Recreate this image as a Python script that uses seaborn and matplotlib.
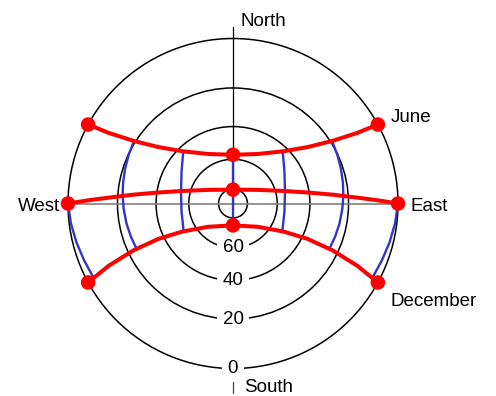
import numpy as np
import matplotlib
matplotlib.use("Agg")
import matplotlib.pyplot as plt
from matplotlib.patches import Circle
import seaborn as sns

# sun positions
# azimuth in degrees from north (clockwise), altitude in degrees
june_az = [61.4, 60.4, 57.8, 52.9, 44.1, 26.6, 0.0, 333.4, 315.9, 307.1, 302.2, 299.6, 298.6]
june_alt = [0.0, 8.2, 19.1, 30.9, 42.4, 52.9, 57.1, 52.9, 42.4, 30.9, 19.1, 8.2, 0.0]
equinox_az = [90.0, 88.7, 87.3, 84.9, 81.6, 76.1, 61.3, 0.0, 298.7, 283.9, 278.4, 275.1, 272.7, 271.3, 270.0]
equinox_alt = [0.0, 7.7, 16.0, 27.7, 40.9, 54.9, 70.5, 80.4, 70.5, 54.9, 40.9, 27.7, 16.0, 7.7, 0.0]
december_az = [118.6, 116.6, 115.2, 115.4, 119.0, 133.2, 180.0, 226.8, 241.0, 244.6, 244.8, 243.4, 241.4]
december_alt = [0.0, 9.8, 22.7, 36.9, 51.3, 66.7, 74.9, 66.7, 51.3, 36.9, 22.7, 9.8, 0.0]

# hour lines (June -> equinox -> December)
noon_az = [0.0, 0.0, 180.0]
noon_alt = [57.1, 80.4, 74.9]
h2_am_az = [43.6, 57.9, 76.6, 98.3, 119.0]
h2_pm_az = [316.4, 302.1, 283.4, 261.7, 241.0]
h2_alt = [42.8, 49.6, 54.1, 55.0, 52.2]
h4_am_az = [58.0, 65.0, 72.0, 79.0, 86.1, 93.0, 100.6, 108.0, 115.1]
h4_pm_az = [302.0, 295.0, 288.0, 281.0, 273.9, 267.0, 259.4, 252.0, 244.9]
h4_alt = [19.3, 20.2, 21.0, 21.7, 22.3, 22.9, 23.4, 23.9, 24.3]
h6_am_az = [90.0, 97.0, 104.0, 111.0, 118.0]
h6_pm_az = [270.0, 263.0, 256.0, 249.0, 242.0]
h6_alt = [0.0, 0.6, 1.3, 2.0, 2.5]

ring_alts = [0, 20, 40, 60, 80]
ring_labels = ["0", "20", "40", "60", ""]


def project(az, alt):
    # stereographic projection, horizon at radius 1
    az = np.radians(np.asarray(az, dtype=float))
    r = np.tan(np.radians(90 - np.asarray(alt, dtype=float)) / 2)
    return r * np.sin(az), r * np.cos(az)


sns.set_style("white")
plt.rcParams["font.family"] = ["Liberation Sans", "DejaVu Sans"]
plt.rcParams["text.color"] = "black"

fig = plt.figure(figsize=(4.96, 3.96), dpi=100)
ax = fig.add_axes([0, 0, 1, 1])
R = 165.0
ax.set_xlim(-233 / R, 263 / R)
ax.set_ylim(-(396 - 203.5) / R, 203.5 / R)
ax.axis("off")

# altitude rings
for alt, lab in zip(ring_alts, ring_labels):
    r = np.tan(np.radians(90 - alt) / 2)
    ax.add_patch(Circle((0, 0), r, fill=False, ec="black", lw=1.1, zorder=1))
    if lab:
        ax.text(0, -r, lab, ha="center", va="center", fontsize=13.5, zorder=2,
                bbox=dict(boxstyle="square,pad=0.3", fc="white", ec="none"))

# east-west and north lines
ax.plot([-1, 1], [0, 0], color="#808080", lw=1.2, zorder=1.5)
ax.plot([0, 0], [0, 176.5 / R], color="black", lw=0.9, zorder=1.5)
ax.plot([0, 0], [-(382 - 203.5) / R, -(393 - 203.5) / R], color="#444444", lw=0.9)

# hour lines
for az_list, alt_list in [(noon_az, noon_alt), (h2_am_az, h2_alt), (h2_pm_az, h2_alt),
                          (h4_am_az, h4_alt), (h4_pm_az, h4_alt),
                          (h6_am_az, h6_alt), (h6_pm_az, h6_alt)]:
    x, y = project(az_list, alt_list)
    sns.lineplot(x=x, y=y, sort=False, estimator=None, color="#3434c8", lw=1.7,
                 ax=ax, zorder=3)

# sun paths with sunrise, noon and sunset dots
for az_list, alt_list in [(june_az, june_alt), (equinox_az, equinox_alt),
                          (december_az, december_alt)]:
    x, y = project(az_list, alt_list)
    sns.lineplot(x=x, y=y, sort=False, estimator=None, color="red", lw=2.9,
                 ax=ax, zorder=4)
    k = len(x) // 2
    sns.scatterplot(x=[x[0], x[k], x[-1]], y=[y[0], y[k], y[-1]], color="red",
                    s=110, edgecolor="none", ax=ax, zorder=5)

fs = 13.5
ax.text(8 / R, 177.5 / R, "North", ha="left", va="baseline", fontsize=fs)
ax.text(11 / R, -(392 - 203.5) / R, "South", ha="left", va="baseline", fontsize=fs)
ax.text(-173 / R, -7.2 / R, "West", ha="right", va="baseline", fontsize=fs)
ax.text(177 / R, -7.2 / R, "East", ha="left", va="baseline", fontsize=fs)
ax.text(157.7 / R, 81.2 / R, "June", ha="left", va="baseline", fontsize=fs)
ax.text(157 / R, -102.5 / R, "December", ha="left", va="baseline", fontsize=fs)

fig.savefig("out.png", dpi=100)
